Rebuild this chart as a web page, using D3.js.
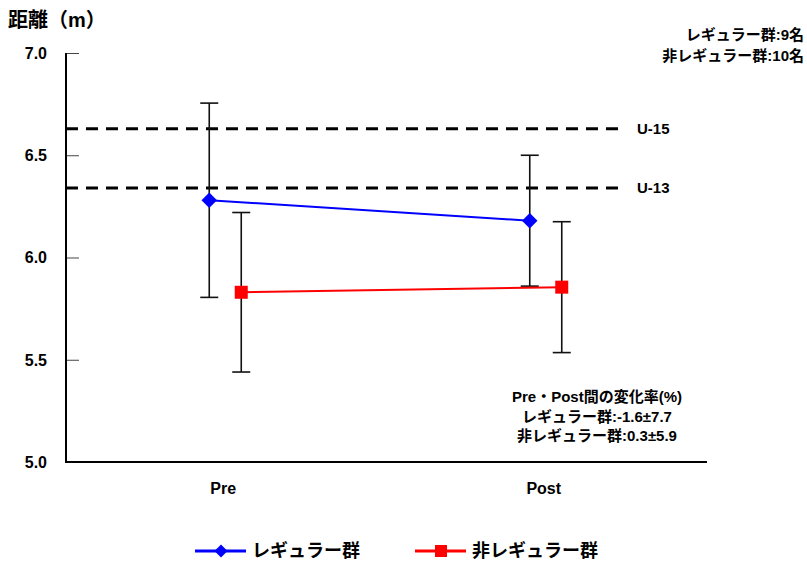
<!DOCTYPE html>
<html>
<head>
<meta charset="utf-8">
<script src="https://cdn.jsdelivr.net/npm/d3@7"></script>
<style>
  html, body { margin: 0; padding: 0; background: #fff; }
  svg text { font-family: "Liberation Sans", "Noto Sans CJK JP", sans-serif; font-weight: bold; fill: #000; }
</style>
</head>
<body>
<svg id="chart" width="807" height="568"></svg>
<script>
// Timepoints and group statistics (mean ± SD, metres)
const categories = ["Pre", "Post"];
const seriesNames = ["レギュラー群", "非レギュラー群"];
const regularMean = [6.28, 6.18];
const regularSD = [0.475, 0.32];
const nonRegularMean = [5.83, 5.855];
const nonRegularSD = [0.39, 0.32];
const referenceValues = [6.63, 6.34];
const referenceLabels = ["U-15", "U-13"];
const yTicks = [5.0, 5.5, 6.0, 6.5, 7.0];
const countNotes = ["レギュラー群:9名", "非レギュラー群:10名"];
const changeNotes = ["Pre・Post間の変化率(%)", "レギュラー群:-1.6±7.7", "非レギュラー群:0.3±5.9"];

const svg = d3.select("#chart");
const plotLeft = 66, plotRight = 707, plotTop = 53, plotBottom = 462;

const y = d3.scaleLinear().domain([5.0, 7.0]).range([plotBottom, plotTop]);
const x = d3.scaleBand().domain(categories).range([plotLeft, plotRight]);
const center = c => x(c) + x.bandwidth() / 2;

const series = [
  { name: seriesNames[0], mean: regularMean, sd: regularSD, color: "#0000ff", offset: -17, shape: "diamond" },
  { name: seriesNames[1], mean: nonRegularMean, sd: nonRegularSD, color: "#ff0000", offset: 15, shape: "square" }
];

// Y axis: ticks drawn inward, tick text placed separately
const yAxis = d3.axisRight(y).tickValues(yTicks).tickSize(13).tickFormat("");
const yg = svg.append("g").attr("transform", `translate(${plotLeft},0)`).call(yAxis);
yg.select(".domain").remove();
yg.selectAll(".tick line").attr("stroke", "#444").attr("stroke-width", 1);
svg.append("line").attr("x1", plotLeft).attr("x2", plotLeft).attr("y1", plotTop).attr("y2", plotBottom + 1)
  .attr("stroke", "#000").attr("stroke-width", 2);

svg.append("g").selectAll("text").data(yTicks).join("text")
  .attr("x", 47).attr("y", d => y(d)).attr("dy", "0.36em")
  .attr("text-anchor", "end").attr("font-size", 16)
  .text(d => d.toFixed(1));

// X axis baseline and category labels
svg.append("line").attr("x1", plotLeft).attr("x2", plotRight).attr("y1", plotBottom).attr("y2", plotBottom)
  .attr("stroke", "#000").attr("stroke-width", 2);
svg.append("g").selectAll("text").data(categories).join("text")
  .attr("x", d => center(d) - 3).attr("y", 494)
  .attr("text-anchor", "middle").attr("font-size", 16)
  .text(d => d);

// Axis title
svg.append("text").attr("x", 8).attr("y", 27).attr("font-size", 20).text("距離（m）");

// Reference lines
referenceValues.forEach((v, i) => {
  svg.append("line").attr("x1", plotLeft).attr("x2", 626).attr("y1", y(v)).attr("y2", y(v))
    .attr("stroke", "#000").attr("stroke-width", 3).attr("stroke-dasharray", "12,8");
  svg.append("text").attr("x", 637).attr("y", y(v)).attr("dy", "0.36em")
    .attr("font-size", 15).attr("font-weight", "normal").text(referenceLabels[i]);
});

// Error bars
series.forEach(s => {
  const g = svg.append("g");
  categories.forEach((c, i) => {
    const cx = center(c) + s.offset;
    const hi = y(s.mean[i] + s.sd[i]), lo = y(s.mean[i] - s.sd[i]);
    g.append("line").attr("x1", cx).attr("x2", cx).attr("y1", hi).attr("y2", lo)
      .attr("stroke", "#111").attr("stroke-width", 1.6);
    [hi, lo].forEach(yy => g.append("line").attr("x1", cx - 9).attr("x2", cx + 9)
      .attr("y1", yy).attr("y2", yy).attr("stroke", "#111").attr("stroke-width", 1.6));
  });
});

// Lines and markers
function marker(g, shape, cx, cy, color, size) {
  if (shape === "diamond") {
    g.append("path").attr("d", d3.symbol(d3.symbolDiamond2, size * size * 0.9)())
      .attr("transform", `translate(${cx},${cy})`).attr("fill", color);
  } else {
    g.append("rect").attr("x", cx - size / 2).attr("y", cy - size / 2)
      .attr("width", size).attr("height", size).attr("fill", color);
  }
}
series.forEach(s => {
  const g = svg.append("g");
  const line = d3.line().x((d, i) => center(categories[i]) + s.offset).y(d => y(d));
  g.append("path").datum(s.mean).attr("d", line).attr("fill", "none")
    .attr("stroke", s.color).attr("stroke-width", 2);
  s.mean.forEach((m, i) => marker(g, s.shape, center(categories[i]) + s.offset, y(m), s.color, 13));
});

// Notes
svg.append("g").selectAll("text").data(countNotes).join("text")
  .attr("x", 804).attr("y", (d, i) => 40 + i * 21).attr("text-anchor", "end")
  .attr("font-size", 15).text(d => d);
svg.append("g").selectAll("text").data(changeNotes).join("text")
  .attr("x", 597).attr("y", (d, i) => 402 + i * 19.5).attr("text-anchor", "middle")
  .attr("font-size", 15).text(d => d);

// Legend
const legendItems = [
  { s: series[0], x: 195 },
  { s: series[1], x: 415 }
];
legendItems.forEach(li => {
  const g = svg.append("g");
  g.append("line").attr("x1", li.x).attr("x2", li.x + 51).attr("y1", 551).attr("y2", 551)
    .attr("stroke", li.s.color).attr("stroke-width", 3);
  marker(g, li.s.shape, li.x + 26, 551, li.s.color, li.s.shape === "diamond" ? 11 : 12);
  g.append("text").attr("x", li.x + 57).attr("y", 551).attr("dy", "0.36em")
    .attr("font-size", 18).text(li.s.name);
});
</script>
</body>
</html>
